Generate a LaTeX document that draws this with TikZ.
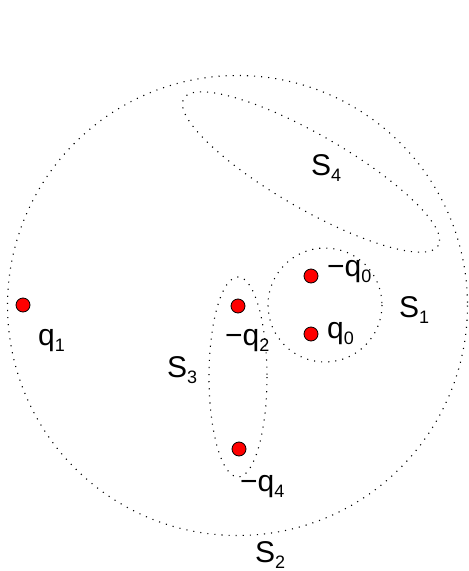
\documentclass[tikz,border=0pt]{standalone}
\usepackage{fontspec}
\setmainfont{Liberation Sans}
\usepackage{tikz}
\usetikzlibrary{positioning}

\newcommand{\sub}[2]{#1\raisebox{-6.5pt}{\fontsize{18}{18}\selectfont #2}}

\begin{document}
\begin{tikzpicture}[
    x=1pt, y=-1pt,
    charge/.style={
        draw, circle, fill=red, line width=0.8pt,
        minimum size=14pt, inner sep=0pt
    },
    lbl/.style={
        anchor=base west, inner sep=0pt,
        font=\fontsize{30}{36}\selectfont
    },
    surf/.style={line width=1.1pt, dash pattern=on 1.1pt off 6pt}
]
\useasboundingbox (0,0) rectangle (469,571);

% --- Gaussian surfaces
\draw [surf] (237.5,305.5) circle [radius=230];
\draw [surf] (325,305) circle [radius=57];
\draw [surf] (238,377) ellipse [x radius=29, y radius=100];
\draw [surf, rotate around={-30:(311,172)}] (311,172) ellipse [x radius=147, y radius=37];

% --- Charges
\node (q1)  [charge] at (23,305)  {};
\node (mq2) [charge] at (238,306) {};
\node (mq4) [charge] at (239,449) {};
\node (mq0) [charge] at (311,276) {};
\node (q0)  [charge] at (311,334) {};

% --- Charge labels
\node (tq1)  [lbl] at (38,345)  {\sub{q}{1}};
\node (tmq2) [lbl] at (225,345) {\sub{−q}{2}};
\node (tmq4) [lbl] at (240,491) {\sub{−q}{4}};
\node (tmq0) [lbl] at (327,276) {\sub{−q}{0}};
\node (tq0)  [lbl] at (327,338) {\sub{q}{0}};

% --- Surface labels
\node (s1) [lbl] at (399,317) {\sub{S}{1}};
\node (s2) [lbl] at (255,562) {\sub{S}{2}};
\node (s3) [lbl] at (167,377) {\sub{S}{3}};
\node (s4) [lbl] at (311,175) {\sub{S}{4}};

\end{tikzpicture}
\end{document}
